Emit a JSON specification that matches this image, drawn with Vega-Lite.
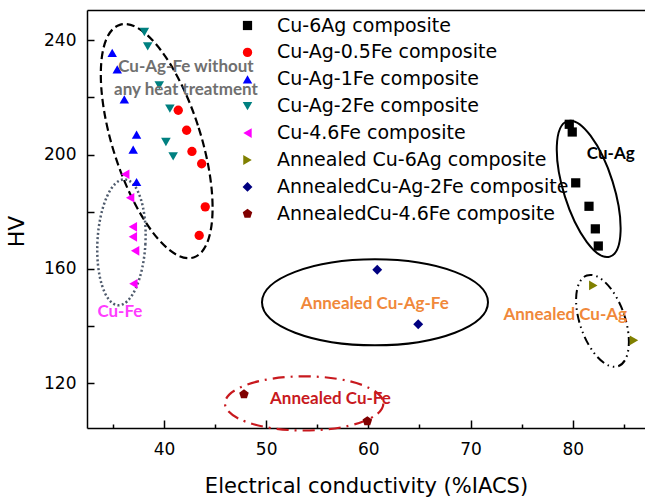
{
  "$schema": "https://vega.github.io/schema/vega-lite/v6.json",
  "width": 558,
  "height": 418,
  "autosize": "none",
  "padding": {"left": 87, "top": 10, "right": 0, "bottom": 70},
  "config": {"view": {"stroke": null}, "font": "DejaVu Sans"},
  "data": {"values": [
    {"series": "Cu-6Ag composite", "x": 79.66, "y": 210.6},
    {"series": "Cu-6Ag composite", "x": 79.95, "y": 207.9},
    {"series": "Cu-6Ag composite", "x": 80.29, "y": 190.1},
    {"series": "Cu-6Ag composite", "x": 81.59, "y": 181.9},
    {"series": "Cu-6Ag composite", "x": 82.21, "y": 174.0},
    {"series": "Cu-6Ag composite", "x": 82.50, "y": 168.0},
    {"series": "Cu-Ag-0.5Fe composite", "x": 41.40, "y": 215.5},
    {"series": "Cu-Ag-0.5Fe composite", "x": 42.22, "y": 208.5},
    {"series": "Cu-Ag-0.5Fe composite", "x": 42.74, "y": 201.1},
    {"series": "Cu-Ag-0.5Fe composite", "x": 43.69, "y": 196.8},
    {"series": "Cu-Ag-0.5Fe composite", "x": 44.04, "y": 181.7},
    {"series": "Cu-Ag-0.5Fe composite", "x": 43.45, "y": 171.7},
    {"series": "Cu-Ag-1Fe composite", "x": 34.94, "y": 235.6},
    {"series": "Cu-Ag-1Fe composite", "x": 35.43, "y": 229.8},
    {"series": "Cu-Ag-1Fe composite", "x": 36.12, "y": 219.3},
    {"series": "Cu-Ag-1Fe composite", "x": 37.32, "y": 207.0},
    {"series": "Cu-Ag-1Fe composite", "x": 36.99, "y": 201.7},
    {"series": "Cu-Ag-1Fe composite", "x": 37.32, "y": 190.4},
    {"series": "Cu-Ag-2Fe composite", "x": 38.08, "y": 242.9},
    {"series": "Cu-Ag-2Fe composite", "x": 38.41, "y": 237.9},
    {"series": "Cu-Ag-2Fe composite", "x": 39.54, "y": 224.2},
    {"series": "Cu-Ag-2Fe composite", "x": 40.58, "y": 216.1},
    {"series": "Cu-Ag-2Fe composite", "x": 40.19, "y": 204.4},
    {"series": "Cu-Ag-2Fe composite", "x": 40.90, "y": 199.4},
    {"series": "Cu-4.6Fe composite", "x": 36.21, "y": 193.1},
    {"series": "Cu-4.6Fe composite", "x": 36.69, "y": 184.9},
    {"series": "Cu-4.6Fe composite", "x": 36.96, "y": 174.7},
    {"series": "Cu-4.6Fe composite", "x": 36.96, "y": 171.2},
    {"series": "Cu-4.6Fe composite", "x": 37.18, "y": 166.3},
    {"series": "Cu-4.6Fe composite", "x": 37.01, "y": 154.8},
    {"series": "Annealed Cu-6Ag composite", "x": 82.01, "y": 154.2},
    {"series": "Annealed Cu-6Ag composite", "x": 85.99, "y": 135.0},
    {"series": "AnnealedCu-Ag-2Fe composite", "x": 60.87, "y": 159.7},
    {"series": "AnnealedCu-Ag-2Fe composite", "x": 64.88, "y": 140.6},
    {"series": "AnnealedCu-4.6Fe composite", "x": 47.83, "y": 116.1},
    {"series": "AnnealedCu-4.6Fe composite", "x": 59.90, "y": 106.7}
  ]},
  "encoding": {
    "x": {"field": "x", "type": "quantitative", "scale": {"domain": [32.47, 87.07], "nice": false, "zero": false}, "axis": null},
    "y": {"field": "y", "type": "quantitative", "scale": {"domain": [104.3, 250.6], "nice": false, "zero": false}, "axis": null}
  },
  "layer": [
    {
      "data": {"values": [{"x": 39.29, "y": 204.7}]},
      "mark": {"type": "point", "shape": "M0.361,0C0.361,0.5523,0.1994,1,0,1C-0.1994,1,-0.361,0.5523,-0.361,0C-0.361,-0.5523,-0.1994,-1,0,-1C0.1994,-1,0.361,-0.5523,0.361,0Z", "size": 59536, "angle": 342.4, "filled": false, "stroke": "#000000", "strokeWidth": 2.2, "strokeDash": [8, 4], "opacity": 1}
    },
    {
      "data": {"values": [{"x": 35.84, "y": 169.3}]},
      "mark": {"type": "point", "shape": "M0.381,0C0.381,0.5523,0.2104,1,0,1C-0.2104,1,-0.381,0.5523,-0.381,0C-0.381,-0.5523,-0.2104,-1,0,-1C0.2104,-1,0.381,-0.5523,0.381,0Z", "size": 15876, "angle": 3, "filled": false, "stroke": "#4f5b6d", "strokeWidth": 2.5, "strokeDash": [2, 2.4], "opacity": 1}
    },
    {
      "data": {"values": [{"x": 81.56, "y": 188.0}]},
      "mark": {"type": "point", "shape": "M0.352,0C0.352,0.5523,0.1944,1,0,1C-0.1944,1,-0.352,0.5523,-0.352,0C-0.352,-0.5523,-0.1944,-1,0,-1C0.1944,-1,0.352,-0.5523,0.352,0Z", "size": 20164, "angle": 342.6, "filled": false, "stroke": "#000000", "strokeWidth": 2, "opacity": 1}
    },
    {
      "data": {"values": [{"x": 82.91, "y": 141.8}]},
      "mark": {"type": "point", "shape": "M0.469,0C0.469,0.5523,0.259,1,0,1C-0.259,1,-0.469,0.5523,-0.469,0C-0.469,-0.5523,-0.259,-1,0,-1C0.259,-1,0.469,-0.5523,0.469,0Z", "size": 9216, "angle": 341, "filled": false, "stroke": "#000000", "strokeWidth": 2, "strokeDash": [9, 4, 1.5, 4, 1.5, 4], "opacity": 1}
    },
    {
      "data": {"values": [{"x": 60.65, "y": 148.3}]},
      "mark": {"type": "point", "shape": "M1,0C1,0.2104,0.5523,0.381,0,0.381C-0.5523,0.381,-1,0.2104,-1,0C-1,-0.2104,-0.5523,-0.381,0,-0.381C0.5523,-0.381,1,-0.2104,1,0Z", "size": 51076, "filled": false, "stroke": "#000000", "strokeWidth": 2, "opacity": 1}
    },
    {
      "data": {"values": [{"x": 53.72, "y": 112.9}]},
      "mark": {"type": "point", "shape": "M1,0C1,0.1889,0.5523,0.342,0,0.342C-0.5523,0.342,-1,0.1889,-1,0C-1,-0.1889,-0.5523,-0.342,0,-0.342C0.5523,-0.342,1,-0.1889,1,0Z", "size": 25090, "filled": false, "stroke": "#c8191e", "strokeWidth": 2.2, "strokeDash": [12, 6, 2, 6], "opacity": 1}
    },
    {
      "mark": {"type": "point", "filled": true, "opacity": 1, "strokeWidth": 0},
      "encoding": {
        "x": {"field": "x", "type": "quantitative", "scale": {"domain": [32.47, 87.07], "nice": false, "zero": false},
          "axis": {"orient": "bottom", "values": [40, 50, 60, 70, 80], "grid": false, "tickSize": -8, "tickWidth": 1.5, "tickColor": "#000", "domainColor": "#000", "domainWidth": 1.5,
            "labelFont": "DejaVu Sans", "labelFontSize": 17, "labelColor": "#000", "labelPadding": 21,
            "title": "Electrical conductivity (%IACS)", "titleFont": "DejaVu Sans", "titleFontSize": 21, "titleFontWeight": "normal", "titleColor": "#000", "titleY": 58, "titleBaseline": "middle"}},
        "y": {"field": "y", "type": "quantitative", "scale": {"domain": [104.3, 250.6], "nice": false, "zero": false},
          "axis": {"orient": "left", "values": [120, 160, 200, 240], "grid": false, "tickSize": -7, "tickWidth": 1.5, "tickColor": "#000", "domainColor": "#000", "domainWidth": 1.5,
            "labelFont": "DejaVu Sans", "labelFontSize": 17, "labelColor": "#000", "labelPadding": 18,
            "title": "HV", "titleFont": "DejaVu Sans", "titleFontSize": 22, "titleFontWeight": "normal", "titleColor": "#000", "titleX": -71, "titleY": 221, "titleBaseline": "middle", "titleAlign": "center"}},
        "color": {"field": "series", "type": "nominal",
          "scale": {"domain": ["Cu-6Ag composite", "Cu-Ag-0.5Fe composite", "Cu-Ag-1Fe composite", "Cu-Ag-2Fe composite", "Cu-4.6Fe composite", "Annealed Cu-6Ag composite", "AnnealedCu-Ag-2Fe composite", "AnnealedCu-4.6Fe composite"],
            "range": ["#000000", "#ff0000", "#0000ff", "#008080", "#ff00ff", "#808000", "#000080", "#800000"]},
          "legend": {"orient": "none", "legendX": 151, "legendY": 6, "title": null, "padding": 0, "labelFont": "DejaVu Sans", "labelFontSize": 19, "labelColor": "#000", "labelLimit": 0, "rowPadding": 6.9, "labelOffset": 20, "symbolSize": 64, "symbolStrokeWidth": 0}},
        "shape": {"field": "series", "type": "nominal",
          "scale": {"domain": ["Cu-6Ag composite", "Cu-Ag-0.5Fe composite", "Cu-Ag-1Fe composite", "Cu-Ag-2Fe composite", "Cu-4.6Fe composite", "Annealed Cu-6Ag composite", "AnnealedCu-Ag-2Fe composite", "AnnealedCu-4.6Fe composite"],
            "range": ["square", "circle", "triangle-up", "triangle-down", "triangle-left", "triangle-right", "diamond", "M0,-1L0.951,-0.309L0.588,0.809L-0.588,0.809L-0.951,-0.309Z"]}},
        "size": {"field": "series", "type": "nominal", "legend": null,
          "scale": {"domain": ["Cu-6Ag composite", "Cu-Ag-0.5Fe composite", "Cu-Ag-1Fe composite", "Cu-Ag-2Fe composite", "Cu-4.6Fe composite", "Annealed Cu-6Ag composite", "AnnealedCu-Ag-2Fe composite", "AnnealedCu-4.6Fe composite"],
            "range": [85, 100, 135, 135, 135, 135, 150, 125]}}
      }
    },
    {
      "mark": {"type": "point", "opacity": 0},
      "encoding": {
        "x": {"field": "x", "type": "quantitative", "scale": {"domain": [32.47, 87.07], "nice": false, "zero": false},
          "axis": {"orient": "bottom", "values": [35, 45, 55, 65, 75, 85], "grid": false, "domain": false, "labels": false, "title": null, "tickSize": -4, "tickWidth": 1.5, "tickColor": "#000"}},
        "y": {"field": "y", "type": "quantitative", "scale": {"domain": [104.3, 250.6], "nice": false, "zero": false},
          "axis": {"orient": "left", "values": [140, 180, 220], "grid": false, "domain": false, "labels": false, "title": null, "tickSize": -7, "tickWidth": 1.5, "tickColor": "#000"}}
      }
    },
    {
      "mark": {"type": "point", "opacity": 0},
      "encoding": {
        "x": {"field": "x", "type": "quantitative", "scale": {"domain": [32.47, 87.07], "nice": false, "zero": false},
          "axis": {"orient": "top", "grid": false, "domain": true, "ticks": false, "labels": false, "title": null, "domainColor": "#000", "domainWidth": 1.5}}
      }
    },
    {
      "data": {"values": [{"x": 42.15, "y": 230.6, "label": "Cu-Ag-Fe without\nany heat treatment"}]},
      "mark": {"type": "text", "font": "Lato", "fontWeight": "bold", "fontSize": 17, "color": "#707070", "align": "center", "baseline": "middle", "lineBreak": "\n", "lineHeight": 22.6},
      "encoding": {"text": {"field": "label"}}
    },
    {
      "data": {"values": [{"x": 83.72, "y": 200.3, "label": "Cu-Ag"}]},
      "mark": {"type": "text", "font": "Lato", "fontWeight": "bold", "fontSize": 17, "color": "#000000", "align": "center", "baseline": "middle"},
      "encoding": {"text": {"field": "label"}}
    },
    {
      "data": {"values": [{"x": 35.69, "y": 144.9, "label": "Cu-Fe"}]},
      "mark": {"type": "text", "font": "Lato", "fontWeight": "bold", "fontSize": 17, "color": "#ff3cff", "align": "center", "baseline": "middle"},
      "encoding": {"text": {"field": "label"}}
    },
    {
      "data": {"values": [{"x": 60.63, "y": 147.8, "label": "Annealed Cu-Ag-Fe"}, {"x": 79.27, "y": 143.7, "label": "Annealed Cu-Ag"}]},
      "mark": {"type": "text", "font": "Lato", "fontWeight": "bold", "fontSize": 17, "color": "#f0883a", "align": "center", "baseline": "middle"},
      "encoding": {"text": {"field": "label"}}
    },
    {
      "data": {"values": [{"x": 56.29, "y": 114.6, "label": "Annealed Cu-Fe"}]},
      "mark": {"type": "text", "font": "Lato", "fontWeight": "bold", "fontSize": 17, "color": "#c8191e", "align": "center", "baseline": "middle"},
      "encoding": {"text": {"field": "label"}}
    }
  ],
  "resolve": {"axis": {"x": "independent", "y": "independent"}}
}
